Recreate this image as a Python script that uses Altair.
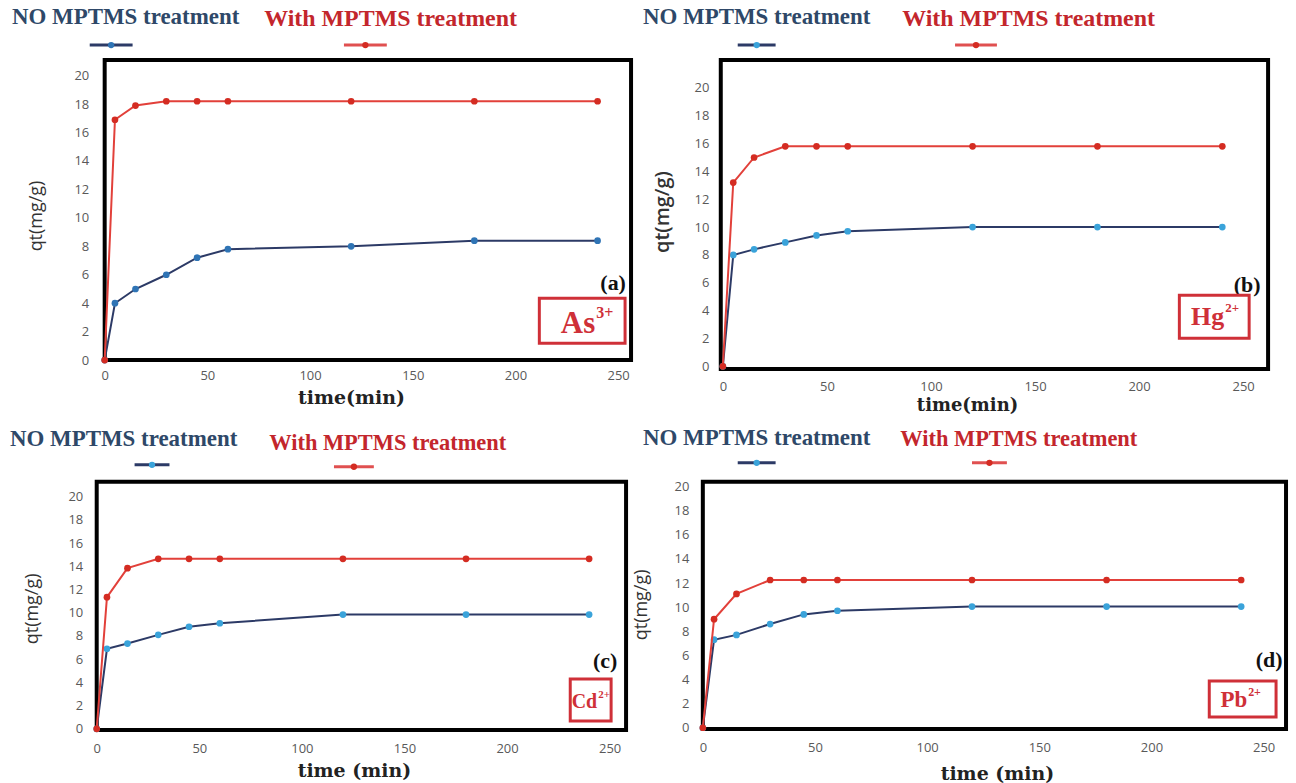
import altair as alt
import pandas as pd

# ---------------- data ----------------
time_min = [0, 5, 15, 30, 45, 60, 120, 180, 240]

as_no = [0, 4.0, 5.0, 6.0, 7.2, 7.8, 8.0, 8.4, 8.4]
as_with = [0, 16.9, 17.9, 18.2, 18.2, 18.2, 18.2, 18.2, 18.2]
hg_no = [0, 8.0, 8.4, 8.9, 9.4, 9.7, 10.0, 10.0, 10.0]
hg_with = [0, 13.2, 15.0, 15.8, 15.8, 15.8, 15.8, 15.8, 15.8]
cd_no = [0, 6.9, 7.35, 8.1, 8.8, 9.1, 9.85, 9.85, 9.85]
cd_with = [0, 11.35, 13.85, 14.65, 14.65, 14.65, 14.65, 14.65, 14.65]
pb_no = [0, 7.3, 7.7, 8.6, 9.4, 9.7, 10.05, 10.05, 10.05]
pb_with = [0, 9.0, 11.1, 12.25, 12.25, 12.25, 12.25, 12.25, 12.25]

x_ticks = [0, 50, 100, 150, 200, 250]
y_ticks = [0, 2, 4, 6, 8, 10, 12, 14, 16, 18, 20]

legend_no = "NO MPTMS treatment"
legend_with = "With MPTMS treatment"

# ---------------- styles ----------------
NAVY = "#2c3a66"
RED_LINE = "#e2403a"
RED_PT = "#d42c22"
BLUE_PT_A = "#2f74b5"
BLUE_PT = "#3aa3da"
LEG_BLUE_TEXT = "#2e4868"
LEG_RED_TEXT = "#c3262c"
ANNOT_RED = "#cf3038"
SERIF = "Liberation Serif"

one = pd.DataFrame({"k": [0]})


def txt(s, x, y, size, color, align="left", font=SERIF, weight="bold"):
    return alt.Chart(one).mark_text(
        text=s, font=font, fontWeight=weight, fontSize=size, color=color,
        align=align, baseline="middle"
    ).encode(x=alt.value(x), y=alt.value(y))


def symbol(x1, x2, y, line_color, pt_color):
    r = alt.Chart(one).mark_rule(color=line_color, strokeWidth=3).encode(
        x=alt.value(x1), x2=alt.value(x2), y=alt.value(y))
    p = alt.Chart(one).mark_circle(color=pt_color, size=40, opacity=1).encode(
        x=alt.value((x1 + x2) / 2), y=alt.value(y))
    return [r, p]


def spacer(w):
    return (
        alt.Chart(one)
        .mark_point(opacity=0)
        .encode(x=alt.value(0), y=alt.value(0))
        .properties(width=w, height=1,
                    view=alt.ViewBackground(stroke="transparent", strokeWidth=0))
    )


def panel(c):
    df_no = pd.DataFrame({"time": time_min, "qt": c["no"]})
    df_w = pd.DataFrame({"time": time_min, "qt": c["with"]})
    x = alt.X(
        "time:Q",
        scale=alt.Scale(domain=c["xdom"], nice=False, zero=False),
        axis=alt.Axis(
            values=x_ticks, title=c["xtitle"], grid=False, domain=False,
            ticks=False, tickSize=0, labelFlush=False,
            labelFont="Open Sans", labelFontSize=13, labelColor="#595959",
            labelPadding=c["xpad"],
            titleFont="DejaVu Serif", titleFontWeight="bold",
            titleFontSize=c["xts"], titleColor="#222222",
            titleX=c["xtx"], titleY=c["xty"], titleAlign="center",
            titleBaseline="middle",
        ),
    )
    y = alt.Y(
        "qt:Q",
        scale=alt.Scale(domain=c["ydom"], nice=False, zero=False),
        axis=alt.Axis(
            values=y_ticks, title="qt(mg/g)", grid=False, domain=False,
            ticks=False, tickSize=0, labelFlush=False,
            labelFont="Open Sans", labelFontSize=13, labelColor="#595959",
            labelPadding=c["ypad"],
            titleFont="Open Sans", titleFontWeight=c["ytw"],
            titleFontSize=c["yts"], titleColor="#333333",
            titleX=c["ytx"], titleY=c["yty"], titleAngle=270,
            titleAlign="center", titleBaseline="middle",
        ),
    )
    layers = []
    if "anchor" in c:
        ax1, ax2, ay1, ay2 = c["anchor"]
        layers.append(
            alt.Chart(one).mark_rect(fill="white", fillOpacity=0).encode(
                x=alt.value(ax1), x2=alt.value(ax2),
                y=alt.value(ay1), y2=alt.value(ay2))
        )
    layers.append(
        alt.Chart(df_no).mark_line(
            color=NAVY, strokeWidth=2,
            point=alt.OverlayMarkDef(filled=True, size=45, color=c["bpt"], opacity=1),
        ).encode(x=x, y=y)
    )
    layers.append(
        alt.Chart(df_w).mark_line(
            color=RED_LINE, strokeWidth=2,
            point=alt.OverlayMarkDef(filled=True, size=45, color=RED_PT, opacity=1),
        ).encode(x=x, y=y)
    )
    # legend (text above a short line-with-dot symbol)
    (nx, ny, ns), (wx, wy, ws) = c["legtext"]
    layers.append(txt(legend_no, nx, ny, ns, LEG_BLUE_TEXT))
    layers.append(txt(legend_with, wx, wy, ws, LEG_RED_TEXT))
    s1, s2 = c["legsym"]
    layers += symbol(s1[0], s1[1], s1[2], NAVY, c["bpt"])
    layers += symbol(s2[0], s2[1], s2[2], "#e05050", RED_PT)
    # annotation: panel letter + boxed ion label
    lx, ly, ltxt = c["letter"]
    layers.append(txt(ltxt, lx, ly, 22, "#111111", align="center"))
    bx1, bx2, by1, by2 = c["box"]
    layers.append(
        alt.Chart(one).mark_rect(fill="white", stroke=ANNOT_RED, strokeWidth=3).encode(
            x=alt.value(bx1), x2=alt.value(bx2), y=alt.value(by1), y2=alt.value(by2))
    )
    el, sup, ex, ey, es, ssz = c["ion"]
    layers.append(txt(el, ex, ey, es, ANNOT_RED, align="right"))
    layers.append(txt(sup, ex + 1, ey - es * 0.36, ssz, ANNOT_RED, align="left"))
    return alt.layer(*layers).properties(width=c["w"], height=c["h"])


cfg_a = {
    "no": as_no, "with": as_with, "bpt": BLUE_PT_A,
    "xdom": [0, 256.3], "ydom": [0, 21.1], "w": 528, "h": 301,
    "xtitle": "time(min)", "xpad": 9, "xts": 19, "xtx": 247, "xty": 38,
    "ypad": 16, "yts": 18, "ytw": "normal", "ytx": -68, "yty": 156,
    "anchor": (-103, 1193, -57, 359),
    "legtext": ((-93, -43, 23), (160, -41, 24)),
    "legsym": ((-15, 28, -15), (240, 283, -15)),
    "letter": (510, 224, "(a)"), "box": (436, 522, 239, 284),
    "ion": ("As", "3+", 492, 265, 31, 16),
}
cfg_b = {
    "no": hg_no, "with": hg_with, "bpt": BLUE_PT,
    "xdom": [-1, 262], "ydom": [-0.2, 22.0], "w": 549, "h": 310,
    "xtitle": "time(min)", "xpad": 11, "xts": 18, "xtx": 247, "xty": 37,
    "ypad": 12, "yts": 20, "ytw": 600, "ytx": -58, "yty": 152,
    "legtext": ((-78, -43, 23), (182, -41, 24)),
    "legsym": ((17, 55, -15), (235, 277, -15)),
    "letter": (528, 226, "(b)"), "box": (460, 530, 236, 279),
    "ion": ("Hg", "2+", 505, 258, 26, 13),
}
cfg_c = {
    "no": cd_no, "with": cd_with, "bpt": BLUE_PT,
    "xdom": [0, 258], "ydom": [-0.1, 21.3], "w": 531, "h": 249,
    "xtitle": "time (min)", "xpad": 13, "xts": 19, "xtx": 258, "xty": 41,
    "ypad": 14, "yts": 18, "ytw": "normal", "ytx": -64, "yty": 127,
    "anchor": (-95, 1201, -60, 303),
    "legtext": ((-87, -43, 23), (173, -39, 22.5)),
    "legsym": ((38, 73, -17), (238, 278, -15)),
    "letter": (510, 180, "(c)"), "box": (475, 516, 198, 240),
    "ion": ("Cd", "2+", 502, 221, 20, 11),
}
cfg_d = {
    "no": pb_no, "with": pb_with, "bpt": BLUE_PT,
    "xdom": [0, 260], "ydom": [-0.1, 20.4], "w": 585, "h": 248,
    "xtitle": "time (min)", "xpad": 13, "xts": 19, "xtx": 295, "xty": 45,
    "ypad": 14, "yts": 18, "ytw": "normal", "ytx": -62, "yty": 123,
    "legtext": ((-60, -44, 23), (198, -43, 22.5)),
    "legsym": ((35, 73, -19), (270, 305, -19)),
    "letter": (568, 179, "(d)"), "box": (508, 575, 200, 236),
    "ion": ("Pb", "2+", 546, 219, 23, 12),
}

# small invisible spacers let row 1 start 8 px further right than row 2
row1 = alt.hconcat(spacer(1), panel(cfg_a), panel(cfg_b), spacing=90, bounds="flush")
row2 = alt.hconcat(spacer(6), panel(cfg_c), panel(cfg_d), spacing=77, bounds="flush")

chart = (
    alt.concat(row1, row2, columns=1, spacing=0, align="none")
    .properties(padding=0, background="white")
    .configure_view(stroke="black", strokeWidth=4)
)

chart.save("out.html", embed_options={"renderer": "svg", "actions": False})
